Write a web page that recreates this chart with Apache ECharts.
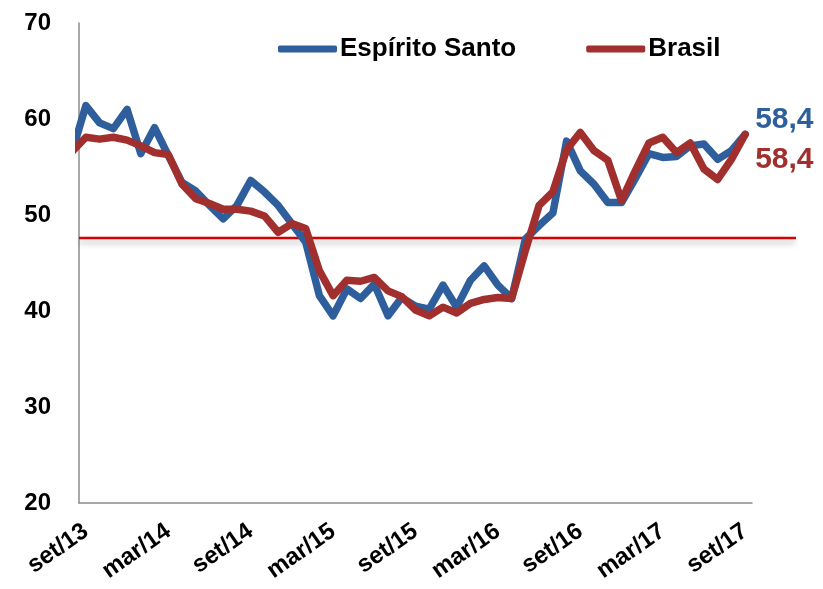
<!DOCTYPE html>
<html>
<head>
<meta charset="utf-8">
<title>Espírito Santo x Brasil</title>
<script src="https://cdn.jsdelivr.net/npm/echarts@6/dist/echarts.min.js"></script>
<style>
    html, body {
        margin: 0;
        padding: 0;
        background: #fff;
    }
    #chart {
        width: 823px;
        height: 589px;
    }
</style>
</head>
<body>
<div id="chart"></div>
<script>
// meses (o primeiro fica antes do eixo, só aparece cortado)
const meses = [
    'ago/13', 'set/13', 'out/13', 'nov/13', 'dez/13',
    'jan/14', 'fev/14', 'mar/14', 'abr/14', 'mai/14', 'jun/14', 'jul/14', 'ago/14', 'set/14', 'out/14', 'nov/14', 'dez/14',
    'jan/15', 'fev/15', 'mar/15', 'abr/15', 'mai/15', 'jun/15', 'jul/15', 'ago/15', 'set/15', 'out/15', 'nov/15', 'dez/15',
    'jan/16', 'fev/16', 'mar/16', 'abr/16', 'mai/16', 'jun/16', 'jul/16', 'ago/16', 'set/16', 'out/16', 'nov/16', 'dez/16',
    'jan/17', 'fev/17', 'mar/17', 'abr/17', 'mai/17', 'jun/17', 'jul/17', 'ago/17', 'set/17',
];
// posições dos rótulos do eixo x (índices em meses)
const rotulosX = [1, 7, 13, 19, 25, 31, 37, 43, 49];

const espiritoSanto = [
    56.6, 61.4, 59.6, 59.0, 61.0,
    56.4, 59.1, 56.2, 53.4, 52.5, 51.0, 49.6, 51.0, 53.6, 52.4, 51.0, 49.1,
    47.2, 41.6, 39.5, 42.3, 41.3, 42.8, 39.5, 41.4, 40.5, 40.2, 42.7, 40.4,
    43.2, 44.7, 42.7, 41.3, 47.5, 48.9, 50.2, 57.7, 54.6, 53.2, 51.3, 51.3,
    53.8, 56.4, 56.0, 56.1, 57.2, 57.4, 55.8, 56.7, 58.4,
];
const brasil = [
    56.6, 58.1, 57.9, 58.1, 57.8,
    57.2, 56.5, 56.3, 53.2, 51.7, 51.2, 50.6, 50.6, 50.4, 49.9, 48.2, 49.1,
    48.6, 44.2, 41.6, 43.2, 43.1, 43.5, 42.1, 41.5, 40.1, 39.5, 40.4, 39.8,
    40.8, 41.2, 41.4, 41.3, 46.3, 51.0, 52.4, 56.8, 58.6, 56.7, 55.7, 51.5,
    54.6, 57.5, 58.1, 56.5, 57.5, 54.8, 53.7, 55.8, 58.4,
];
// linha de referência vermelha
const referencia = [47.6];

const azul = '#2E5F9C';
const vermelho = '#A12F2D';
const fonte = '"Liberation Sans", Arial, sans-serif';

// parte comum das duas séries
const comum = {
    type: 'line',
    xAxisIndex: 0,
    yAxisIndex: 0,
    symbol: 'none',
    clip: true,
};

const myChart = echarts.init(document.getElementById('chart'));
const options = {
    animation: false,
    textStyle: {
        fontFamily: fonte,
    },
    legend: {
        data: ['Espírito Santo', 'Brasil'],
        left: 273,
        top: 31,
        icon: 'roundRect',
        itemWidth: 59,
        itemHeight: 7,
        itemGap: 70,
        textStyle: {
            fontSize: 26,
            fontWeight: 'bold',
            color: '#000',
            padding: [0, 0, 0, -2],
        },
    },
    grid: [
        { left: 79, right: 71, top: 23, bottom: 86 },
        { left: 79, right: 27, top: 23, bottom: 86 },
    ],
    xAxis: [
        {
            type: 'value',
            gridIndex: 0,
            min: 0.5,
            max: 49.5,
            axisLine: {
                lineStyle: { color: '#8c8c8c', width: 1.5 },
            },
            axisTick: { show: false },
            splitLine: { show: false },
            axisLabel: {
                customValues: rotulosX,
                formatter: v => meses[v] || '',
                rotate: 35,
                margin: 26,
                fontSize: 24,
                fontWeight: 'bold',
                color: '#000',
            },
        },
        {
            type: 'value',
            gridIndex: 1,
            min: 0,
            max: 1,
            show: false,
        },
    ],
    yAxis: [
        {
            type: 'value',
            gridIndex: 0,
            min: 20,
            max: 70,
            interval: 10,
            axisLine: {
                show: true,
                lineStyle: { color: '#8c8c8c', width: 1.5 },
            },
            axisTick: { show: false },
            splitLine: { show: false },
            axisLabel: {
                margin: 28,
                fontSize: 24,
                fontWeight: 'bold',
                color: '#000',
            },
        },
        {
            type: 'value',
            gridIndex: 1,
            min: 20,
            max: 70,
            show: false,
        },
    ],
    series: [
        {
            name: 'referência',
            type: 'line',
            xAxisIndex: 1,
            yAxisIndex: 1,
            symbol: 'none',
            silent: true,
            z: 1,
            data: [[0, referencia[0]], [1, referencia[0]]],
            lineStyle: {
                color: '#D80000',
                width: 2.5,
                shadowColor: 'rgba(0,0,0,0.3)',
                shadowBlur: 6,
                shadowOffsetY: 4,
            },
        },
        Object.assign({}, comum, {
            name: 'Espírito Santo',
            z: 3,
            color: azul,
            data: espiritoSanto.map((v, i) => [i, v]),
            lineStyle: { color: azul, width: 7.5, cap: 'round', join: 'round' },
            endLabel: {
                show: true,
                formatter: p => String(p.value[1]).replace('.', ','),
                color: azul,
                fontSize: 30,
                fontWeight: 'bold',
                distance: 10,
                offset: [0, -15],
            },
        }),
        Object.assign({}, comum, {
            name: 'Brasil',
            z: 4,
            color: vermelho,
            data: brasil.map((v, i) => [i, v]),
            lineStyle: { color: vermelho, width: 7.5, cap: 'round', join: 'round' },
            endLabel: {
                show: true,
                formatter: p => String(p.value[1]).replace('.', ','),
                color: vermelho,
                fontSize: 30,
                fontWeight: 'bold',
                distance: 10,
                offset: [0, 25],
            },
        }),
    ],
};
myChart.setOption(options);
</script>
</body>
</html>
